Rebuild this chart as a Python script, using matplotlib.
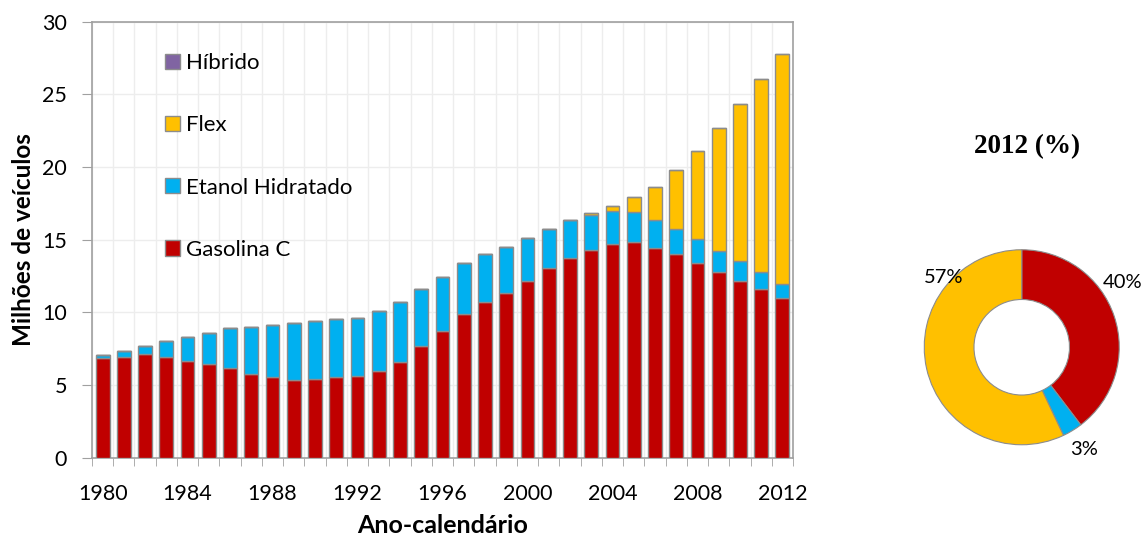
import matplotlib.pyplot as plt
import numpy as np

anos = list(range(1980, 2013))
gasolina = [6.86, 6.95, 7.11, 6.95, 6.68, 6.43, 6.15, 5.78, 5.53, 5.35, 5.44, 5.53,
            5.60, 5.99, 6.59, 7.67, 8.72, 9.89, 10.74, 11.36, 12.16, 13.06, 13.75,
            14.29, 14.73, 14.84, 14.45, 14.02, 13.42, 12.78, 12.16, 11.63, 11.02]
etanol = [0.19, 0.39, 0.58, 1.10, 1.63, 2.13, 2.78, 3.24, 3.58, 3.94, 3.95, 4.00,
          4.04, 4.08, 4.10, 3.92, 3.74, 3.53, 3.30, 3.14, 2.96, 2.68, 2.61,
          2.41, 2.23, 2.05, 1.91, 1.72, 1.61, 1.47, 1.40, 1.17, 0.92]
flex = [0] * 23 + [0.12, 0.36, 1.05, 2.29, 4.06, 6.08, 8.46, 10.80, 13.26, 15.85]
hibrido = [0] * 33

cores = {'Gasolina C': '#C00000', 'Etanol Hidratado': '#00B0F0',
         'Flex': '#FFC000', 'Híbrido': '#8064A2'}
borda = '#8C8C8C'

plt.rcParams['font.family'] = ['Lato', 'DejaVu Sans']

fig = plt.figure(figsize=(11.43, 5.39), dpi=100)
ax = fig.add_axes([92 / 1143, 81.3 / 539, 701 / 1143, 436 / 539])

x = np.arange(len(anos))
w = 0.65
base = np.zeros(len(anos))
barras = {}
for nome, vals in [('Gasolina C', gasolina), ('Etanol Hidratado', etanol),
                   ('Flex', flex), ('Híbrido', hibrido)]:
    barras[nome] = ax.bar(x, vals, w, bottom=base, color=cores[nome],
                          edgecolor=borda, linewidth=1, zorder=3, label=nome)
    base = base + np.array(vals)

ax.set_xlim(-0.5, len(anos) - 0.5)
ax.set_ylim(0, 30)
ax.set_yticks(range(0, 31, 5))
ax.set_xticks(x[::4])
ax.set_xticklabels([str(a) for a in anos[::4]])
ax.set_xticks(np.arange(-0.5, len(anos), 1), minor=True)
ax.tick_params(axis='x', which='major', length=0, pad=19, labelsize=15.5)
ax.tick_params(axis='x', which='minor', length=6, color='#A0A0A0', direction='out')
ax.tick_params(axis='y', length=7, color='#A0A0A0', labelsize=15.5, pad=11)
ax.grid(True, axis='y', color='#EDEDED', linewidth=1, zorder=0)
ax.grid(True, axis='x', which='minor', color='#EDEDED', linewidth=1, zorder=0)
for s in ax.spines.values():
    s.set_color('#A0A0A0')
    s.set_linewidth(1.2)

ax.set_xlabel('Ano-calendário', fontsize=18, fontweight='bold', labelpad=7)
ax.set_ylabel('Milhões de veículos', fontsize=17.5, fontweight='bold', labelpad=5)

ordem = ['Híbrido', 'Flex', 'Etanol Hidratado', 'Gasolina C']
ax.legend([barras[n] for n in ordem], ordem, loc='upper left',
          bbox_to_anchor=(0.104, 0.928), frameon=False, fontsize=16,
          labelspacing=1.9, handlelength=0.68, handleheight=0.68,
          handletextpad=0.25, borderpad=0, borderaxespad=0)

# rosca 2012
ax2 = fig.add_axes([895 / 1143, 65 / 539, 253.5 / 1143, 253.5 / 539])
v2012 = [gasolina[-1], etanol[-1], flex[-1]]
cor2012 = [cores['Gasolina C'], cores['Etanol Hidratado'], cores['Flex']]
ax2.pie(v2012, colors=cor2012, startangle=90, counterclock=False, radius=1,
        wedgeprops=dict(width=0.51, edgecolor='#8C8C8C', linewidth=0.8))
ax2.set_xlim(-1.3, 1.3)
ax2.set_ylim(-1.3, 1.3)
pct = [round(100 * v / sum(v2012)) for v in v2012]
ax2.text(1.03, 0.66, f'{pct[0]}%', ha='center', va='center', fontsize=14.5)
ax2.text(0.64, -1.05, f'{pct[1]}%', ha='center', va='center', fontsize=14.5)
ax2.text(-0.8, 0.72, f'{pct[2]}%', ha='center', va='center', fontsize=14.5)
fig.text(1027 / 1143, 1 - 147 / 539, '2012 (%)', ha='center', va='center',
         fontsize=19.5, fontweight='bold', family='Liberation Serif')

fig.savefig('out.png', dpi=100)
